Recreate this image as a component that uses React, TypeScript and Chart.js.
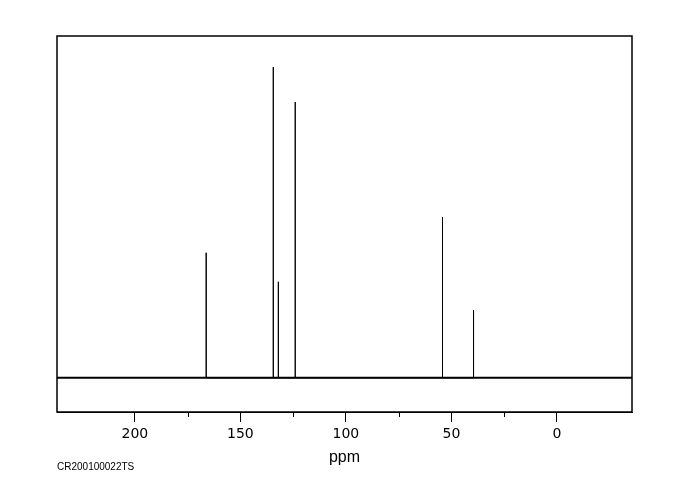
import React, { useEffect, useRef } from "react";
import { Chart, registerables } from "chart.js";

Chart.register(...registerables);

// 13C NMR peaks (ppm) and relative intensities
const peakPpm = [166.2, 134.4, 132.0, 124.0, 54.2, 39.5];
const peakIntensity = [36.6, 90.9, 28.1, 80.7, 47.0, 19.8];
const axisRange = [-35.6, 236.9]; // ppm shown (reversed axis)
const tickedRange = [0, 200]; // ticks only drawn in this range
const intensityRange = [-10, 100];
const sampleCode = "CR200100022TS";
const axisTitle = "ppm";

export default function App() {
  const ref = useRef<HTMLCanvasElement>(null);

  useEffect(() => {
    const canvas = ref.current!;
    const stickData: { x: number; y: number }[] = [];
    const order = peakPpm
      .map((p, i) => i)
      .sort((a, b) => peakPpm[b] - peakPpm[a]);
    order.forEach((i) => {
      stickData.push({ x: peakPpm[i], y: 0 });
      stickData.push({ x: peakPpm[i], y: peakIntensity[i] });
      stickData.push({ x: peakPpm[i], y: 0 });
    });
    const baselineData = [
      { x: axisRange[1], y: 0 },
      { x: axisRange[0], y: 0 },
    ];
    const inRange = (v: number) => v >= tickedRange[0] && v <= tickedRange[1];

    const framePlugin = {
      id: "frame",
      afterDraw(chart: any) {
        const { ctx, chartArea } = chart;
        const xs = chart.scales.x;
        ctx.save();
        ctx.strokeStyle = "#000";
        ctx.lineWidth = 1.5;
        ctx.strokeRect(
          chartArea.left,
          chartArea.top,
          chartArea.right - chartArea.left,
          chartArea.bottom - chartArea.top
        );
        ctx.lineWidth = 1;
        xs.ticks.forEach((t: any) => {
          if (t.value % 50 !== 0 && inRange(t.value)) {
            const px = Math.round(xs.getPixelForValue(t.value)) + 0.5;
            ctx.beginPath();
            ctx.moveTo(px, chartArea.bottom);
            ctx.lineTo(px, chartArea.bottom + 5);
            ctx.stroke();
          }
        });
        ctx.fillStyle = "#000";
        ctx.font = "10px 'Liberation Sans'";
        ctx.textBaseline = "alphabetic";
        ctx.textAlign = "left";
        ctx.fillText(sampleCode, 57, 469.5);
        ctx.restore();
      },
    };

    const chart = new Chart(canvas, {
      type: "line",
      data: {
        datasets: [
          {
            data: baselineData,
            borderColor: "#000",
            borderWidth: 2,
            pointRadius: 0,
            tension: 0,
          },
          {
            data: stickData,
            borderColor: "#000",
            borderWidth: 1,
            pointRadius: 0,
            tension: 0,
          },
        ],
      },
      options: {
        responsive: false,
        animation: false,
        devicePixelRatio: 1,
        layout: { padding: { left: 57, top: 36, right: 48, bottom: 0 } },
        plugins: {
          legend: { display: false },
          tooltip: { enabled: false },
        },
        scales: {
          x: {
            type: "linear",
            reverse: true,
            min: axisRange[0],
            max: axisRange[1],
            afterFit: (scale: any) => {
              scale.height = 88;
            },
            border: { display: true, color: "#000", width: 1 },
            grid: {
              display: true,
              drawOnChartArea: false,
              drawTicks: true,
              tickLength: 10,
              tickColor: (ctx: any) =>
                ctx.tick && ctx.tick.value % 50 === 0 && inRange(ctx.tick.value)
                  ? "#000"
                  : "rgba(0,0,0,0)",
            },
            ticks: {
              stepSize: 25,
              includeBounds: false,
              autoSkip: false,
              maxRotation: 0,
              padding: 4,
              color: "#000",
              font: { family: "'DejaVu Sans'", size: 14 },
              callback: (v: any) =>
                Number(v) % 50 === 0 && inRange(Number(v)) ? String(v) : "",
            },
            title: {
              display: true,
              text: axisTitle,
              color: "#000",
              font: { family: "'Liberation Sans'", size: 16 },
              padding: { top: 0, bottom: 33 },
            },
          },
          y: {
            display: false,
            min: intensityRange[0],
            max: intensityRange[1],
          },
        },
      },
      plugins: [framePlugin],
    });
    return () => chart.destroy();
  }, []);

  return (
    <div style={{ position: "fixed", left: 0, top: 0, width: 680, height: 500, background: "#fff" }}>
      <canvas ref={ref} width={680} height={500} style={{ display: "block" }} />
    </div>
  );
}
